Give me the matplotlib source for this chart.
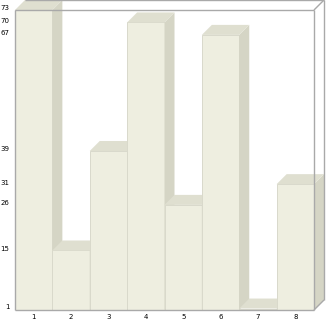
import matplotlib
matplotlib.use("Agg")
import matplotlib.pyplot as plt
from matplotlib.patches import Polygon, Rectangle
from matplotlib.transforms import ScaledTranslation

# Данные
categories = ["1", "2", "3", "4", "5", "6", "7", "8"]
values = [73, 15, 39, 70, 26, 67, 1, 31]
ytick_values = sorted(set(values))

# Цвета
front_color = "#eeeee0"
side_color = "#d5d5c5"
top_color = "#dfdfd0"
edge_color = "#d9d9cb"
frame_color = "#a9a9a9"

W, H = 326, 321
fig = plt.figure(figsize=(W / 100, H / 100), dpi=100)

# Область графика в пикселях: передняя плоскость 15..314 по x, 10..310 по y, глубина 10 px
left_px, right_px, top_px, bottom_px = 15, 324, 0, 310
ax = fig.add_axes([left_px / W, (H - bottom_px) / H,
                   (right_px - left_px) / W, (bottom_px - top_px) / H])

n = len(values)
ymin = 0.65
ymax = max(values)
dx = 10 / (299 / n)
dy = 10 / (300 / (ymax - ymin))
ax.set_xlim(0, n + dx)
ax.set_ylim(ymin, ymax + dy)

# Столбцы слева направо
for i, v in enumerate(values):
    ax.add_patch(Rectangle((i, ymin), 1, v - ymin, facecolor=front_color,
                           edgecolor=edge_color, linewidth=0.7, zorder=2))
    ax.add_patch(Polygon([(i + 1, ymin), (i + 1 + dx, ymin + dy),
                          (i + 1 + dx, v + dy), (i + 1, v)],
                         closed=True, facecolor=side_color, edgecolor="none", zorder=2))
    ax.add_patch(Polygon([(i, v), (i + dx, v + dy), (i + 1 + dx, v + dy), (i + 1, v)],
                         closed=True, facecolor=top_color, edgecolor="none", zorder=2))

# Рамка "стеклянного" ящика
lw = 1.0
frame = [
    ([0, 0], [ymin, ymax]),
    ([0, n], [ymin, ymin]),
    ([0, n], [ymax, ymax]),
    ([n, n], [ymin, ymax]),
    ([dx, n + dx], [ymax + dy, ymax + dy]),
    ([n + dx, n + dx], [ymin + dy, ymax + dy]),
    ([n, n + dx], [ymax, ymax + dy]),
    ([n, n + dx], [ymin, ymin + dy]),
]
for xs, ys in frame:
    ax.plot(xs, ys, color=frame_color, linewidth=lw, clip_on=False, zorder=5,
            solid_capstyle="butt")

for s in ax.spines.values():
    s.set_visible(False)

ax.set_xticks([i + 0.5 for i in range(n)])
ax.set_xticklabels(categories)
ax.set_yticks(ytick_values)
ax.set_yticklabels([str(v) for v in ytick_values])
ax.tick_params(axis="both", length=0, labelsize=5, colors="#000000")
ax.tick_params(axis="x", pad=3)
ax.tick_params(axis="y", pad=4)
offset = ScaledTranslation(0, 2 / 100, fig.dpi_scale_trans)
for lab in ax.get_yticklabels():
    lab.set_transform(lab.get_transform() + offset)

fig.savefig("out.png", dpi=100, facecolor="white")
